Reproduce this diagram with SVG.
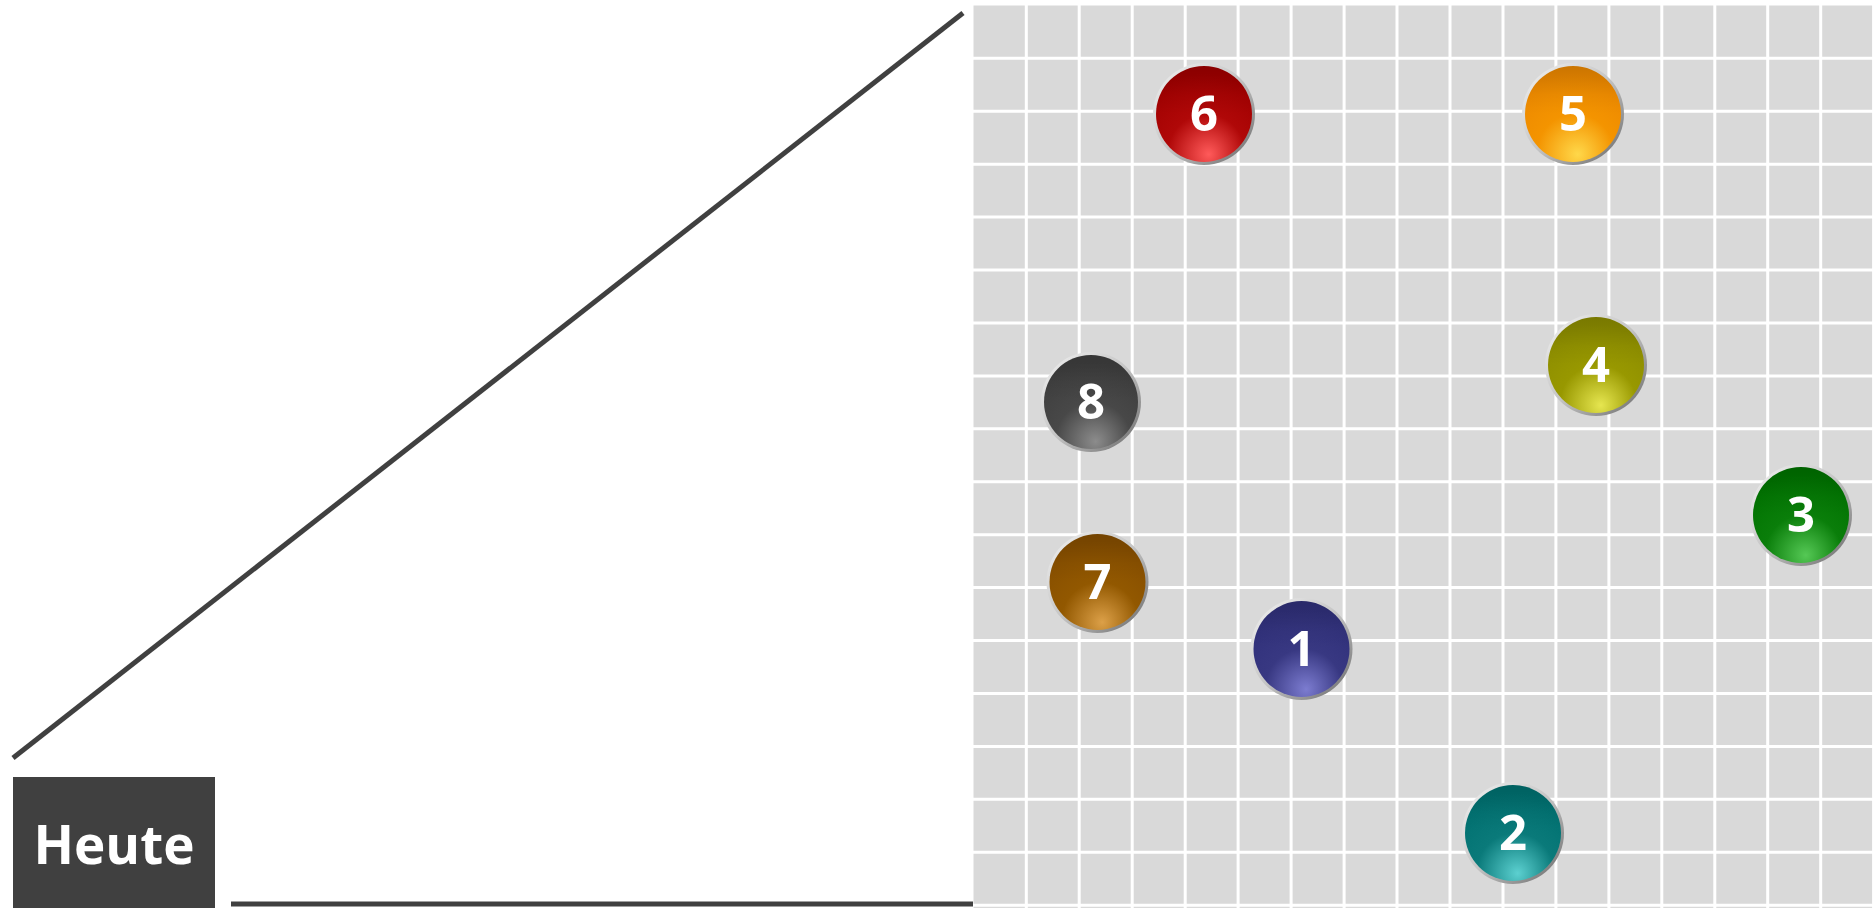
<svg xmlns="http://www.w3.org/2000/svg" width="1874" height="908" viewBox="0 0 1874 908">
<style>
.num{font-family:"Open Sans","Noto Sans","DejaVu Sans",sans-serif;font-weight:700;font-size:49px;fill:#ffffff;text-anchor:middle}
.lbl{font-family:"Open Sans","Noto Sans","DejaVu Sans",sans-serif;font-weight:700;font-size:53px;fill:#ffffff;text-anchor:middle}
.grid{stroke:#ffffff;stroke-width:3;fill:none}
.axis{stroke:#404040;stroke-width:5;fill:none}
</style>
<defs>
<linearGradient id="rim" x1="0" y1="0" x2="1" y2="1">
<stop offset="0" stop-color="#f4f4f4"/>
<stop offset="0.5" stop-color="#c4c4c4"/>
<stop offset="1" stop-color="#666666"/>
</linearGradient>
<linearGradient id="shade" x1="0" y1="0" x2="0" y2="1">
<stop offset="0" stop-color="#000" stop-opacity="0.14"/>
<stop offset="0.3" stop-color="#000" stop-opacity="0.03"/>
<stop offset="0.5" stop-color="#000" stop-opacity="0"/>
</linearGradient>
<radialGradient id="g6" cx="0.5" cy="0.88" r="0.8" fx="0.55" fy="0.92"><stop offset="0" stop-color="#ff5a5a"/><stop offset="0.5" stop-color="#b00808"/><stop offset="1" stop-color="#a00000"/></radialGradient>
<radialGradient id="g5" cx="0.5" cy="0.88" r="0.8" fx="0.55" fy="0.92"><stop offset="0" stop-color="#ffd84a"/><stop offset="0.5" stop-color="#f49400"/><stop offset="1" stop-color="#ec8800"/></radialGradient>
<radialGradient id="g4" cx="0.5" cy="0.88" r="0.8" fx="0.55" fy="0.92"><stop offset="0" stop-color="#e6e650"/><stop offset="0.5" stop-color="#989800"/><stop offset="1" stop-color="#8c8c00"/></radialGradient>
<radialGradient id="g8" cx="0.5" cy="0.88" r="0.8" fx="0.55" fy="0.92"><stop offset="0" stop-color="#8c8c8c"/><stop offset="0.5" stop-color="#484848"/><stop offset="1" stop-color="#3e3e3e"/></radialGradient>
<radialGradient id="g3" cx="0.5" cy="0.88" r="0.8" fx="0.55" fy="0.92"><stop offset="0" stop-color="#55c855"/><stop offset="0.5" stop-color="#0a7e0a"/><stop offset="1" stop-color="#007200"/></radialGradient>
<radialGradient id="g7" cx="0.5" cy="0.88" r="0.8" fx="0.55" fy="0.92"><stop offset="0" stop-color="#dca048"/><stop offset="0.5" stop-color="#925800"/><stop offset="1" stop-color="#864e00"/></radialGradient>
<radialGradient id="g1" cx="0.5" cy="0.88" r="0.8" fx="0.55" fy="0.92"><stop offset="0" stop-color="#7c7cd0"/><stop offset="0.5" stop-color="#383882"/><stop offset="1" stop-color="#30307a"/></radialGradient>
<radialGradient id="g2" cx="0.5" cy="0.88" r="0.8" fx="0.55" fy="0.92"><stop offset="0" stop-color="#5cd0d0"/><stop offset="0.5" stop-color="#0a7a7a"/><stop offset="1" stop-color="#007070"/></radialGradient>
</defs>
<rect x="0" y="0" width="1874" height="908" fill="#ffffff"/>
<g id="grid">
<rect x="973.5" y="5.5" width="901" height="903" fill="#d9d9d9"/>
<path class="grid" d="M1026.3 5V908M1079.2 5V908M1132.2 5V908M1185.2 5V908M1238.1 5V908M1291.1 5V908M1344.1 5V908M1397 5V908M1450 5V908M1503 5V908M1555.9 5V908M1608.9 5V908M1661.8 5V908M1714.8 5V908M1767.7 5V908M1820.7 5V908M1873.6 5V908M973 58.3H1874M973 111.2H1874M973 164.2H1874M973 217.1H1874M973 270H1874M973 323H1874M973 375.9H1874M973 428.8H1874M973 481.7H1874M973 534.7H1874M973 587.6H1874M973 640.5H1874M973 693.4H1874M973 746.4H1874M973 799.3H1874M973 852.2H1874M973 905.2H1874"/>
</g>
<g id="connectors">
<line class="axis" x1="13" y1="758" x2="963" y2="13"/>
<line class="axis" x1="231" y1="904" x2="973" y2="904"/>
</g>
<g id="heute">
<rect x="13" y="777" width="202" height="131" fill="#404040"/>
<text class="lbl" x="114" y="864">Heute</text>
</g>
<g id="ball-6" transform="translate(1204,114)"><circle r="51" fill="url(#rim)"/><circle r="48" fill="url(#g6)"/><circle r="48" fill="url(#shade)"/><text class="num" y="17">6</text></g>
<g id="ball-5" transform="translate(1573,114)"><circle r="51" fill="url(#rim)"/><circle r="48" fill="url(#g5)"/><circle r="48" fill="url(#shade)"/><text class="num" y="17">5</text></g>
<g id="ball-4" transform="translate(1596,365)"><circle r="51" fill="url(#rim)"/><circle r="48" fill="url(#g4)"/><circle r="48" fill="url(#shade)"/><text class="num" y="17">4</text></g>
<g id="ball-8" transform="translate(1091,402)"><circle r="50" fill="url(#rim)"/><circle r="47" fill="url(#g8)"/><circle r="47" fill="url(#shade)"/><text class="num" y="17">8</text></g>
<g id="ball-3" transform="translate(1801,515)"><circle r="51" fill="url(#rim)"/><circle r="48" fill="url(#g3)"/><circle r="48" fill="url(#shade)"/><text class="num" y="17">3</text></g>
<g id="ball-7" transform="translate(1097.5,582)"><circle r="51" fill="url(#rim)"/><circle r="48" fill="url(#g7)"/><circle r="48" fill="url(#shade)"/><text class="num" y="17">7</text></g>
<g id="ball-1" transform="translate(1301.5,649)"><circle r="51" fill="url(#rim)"/><circle r="48" fill="url(#g1)"/><circle r="48" fill="url(#shade)"/><text class="num" y="17">1</text></g>
<g id="ball-2" transform="translate(1513,833)"><circle r="51" fill="url(#rim)"/><circle r="48" fill="url(#g2)"/><circle r="48" fill="url(#shade)"/><text class="num" y="17">2</text></g>
</svg>
